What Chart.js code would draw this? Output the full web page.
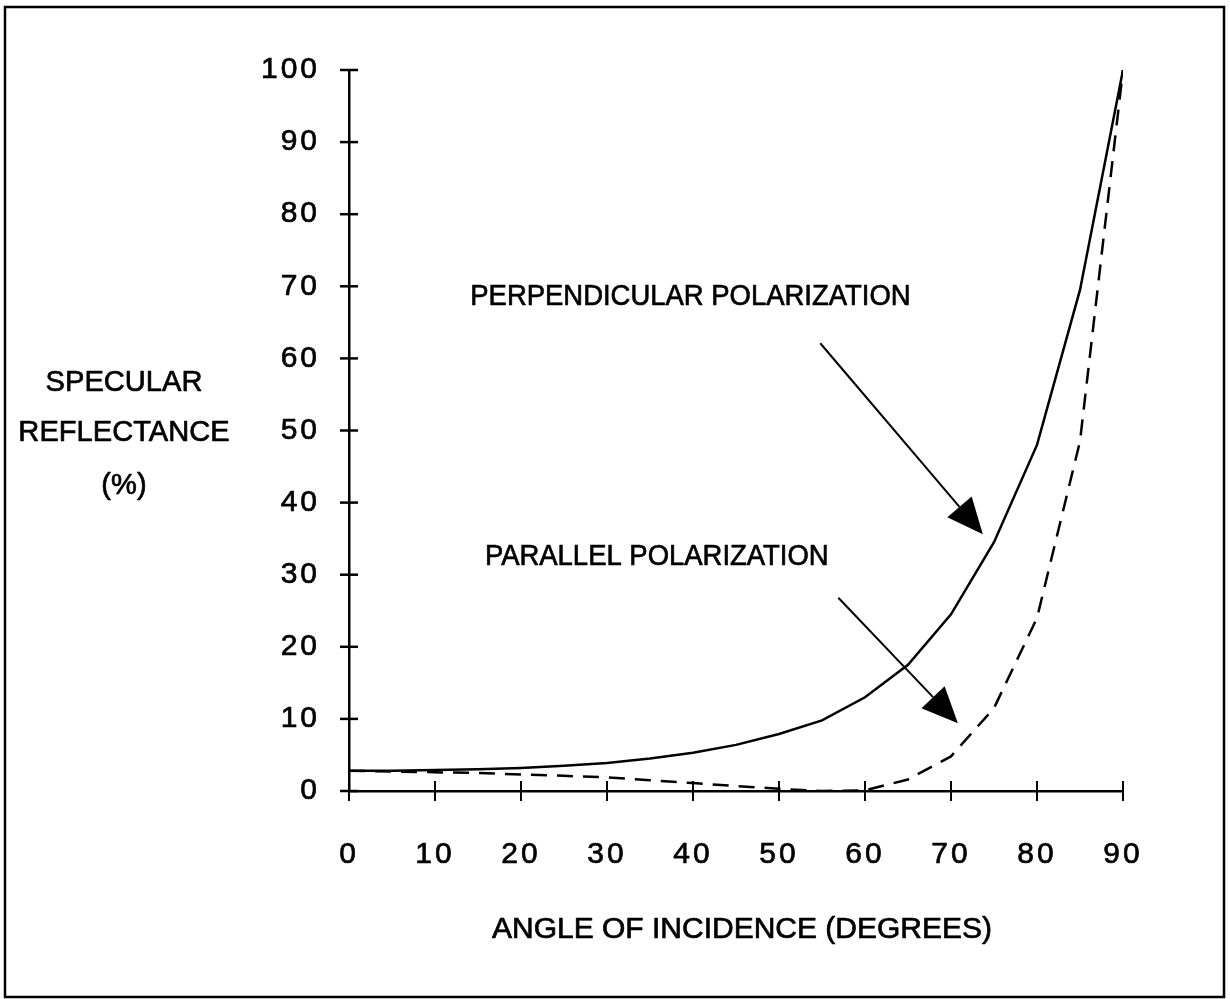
<!DOCTYPE html>
<html><head><meta charset="utf-8">
<script src="https://cdn.jsdelivr.net/npm/chart.js@4.4.1/dist/chart.umd.min.js"></script>
<style>html,body{margin:0;padding:0;background:#fff}#wrap{width:1230px;height:999px;position:relative}</style>
</head><body><div id="wrap"><canvas id="c" width="1230" height="999"></canvas></div>
<script>
const angles = [0,5,10,15,20,25,30,35,40,45,50,55,60,65,70,75,80,85,90];
const perpendicular = [2.8,2.8,2.9,3.0,3.2,3.5,3.9,4.5,5.3,6.4,7.9,9.8,13.0,17.5,24.5,34.5,48,69.5,100];
const parallel = [2.8,2.7,2.6,2.5,2.3,2.1,1.9,1.5,1.1,0.7,0.3,0.0,0.1,1.6,4.8,11.5,24,48.5,100];
const xTickValues = [0,10,20,30,40,50,60,70,80,90];
const yTickValues = [0,10,20,30,40,50,60,70,80,90,100];
const seriesNames = ['PERPENDICULAR POLARIZATION','PARALLEL POLARIZATION'];
const xTitle = 'ANGLE OF INCIDENCE (DEGREES)';
const yTitleLines = ['SPECULAR','REFLECTANCE','(%)'];
// annotation anchors in data units: [textX, textY, arrowStartX, arrowStartY, arrowTipX, arrowTipY]
const perpNote = [14.1, 68.5, 54.8, 62.1, 73.7, 35.6];
const paraNote = [15.8, 32.5, 56.9, 26.8, 70.8, 9.4];

const FONT = '"Liberation Sans",Arial,Helvetica,sans-serif';

function heavyText(ctx, text, x, y, align, sx) {
  ctx.save();
  ctx.translate(x, y); ctx.scale(sx, 1);
  ctx.textAlign = align; ctx.textBaseline = 'middle';
  ctx.lineWidth = 0.7; ctx.lineJoin = 'round';
  ctx.fillText(text, 0, 0); ctx.strokeText(text, 0, 0);
  ctx.restore();
}

function arrow(ctx, x1, y1, x2, y2) {
  const a = Math.atan2(y2 - y1, x2 - x1);
  const L = 36, W = 16;
  const bx = x2 - L * Math.cos(a), by = y2 - L * Math.sin(a);
  ctx.beginPath(); ctx.moveTo(x1, y1); ctx.lineTo(bx, by); ctx.stroke();
  ctx.beginPath(); ctx.moveTo(x2, y2);
  ctx.lineTo(bx + W * Math.sin(a), by - W * Math.cos(a));
  ctx.lineTo(bx - W * Math.sin(a), by + W * Math.cos(a));
  ctx.closePath(); ctx.fill();
}

const deco = {
  id: 'deco',
  beforeDraw(chart) { chart.ctx.letterSpacing = '3px'; },
  beforeDatasetsDraw(chart) {
    const {ctx, scales: {x, y}} = chart;
    ctx.letterSpacing = '0px';
    ctx.save();
    ctx.strokeStyle = '#000'; ctx.lineWidth = 2.5;
    yTickValues.forEach(v => { const py = y.getPixelForValue(v); ctx.beginPath(); ctx.moveTo(x.left - 9, py); ctx.lineTo(x.left + 9, py); ctx.stroke(); });
    ctx.lineWidth = 2;
    xTickValues.forEach(v => { const px = x.getPixelForValue(v); ctx.beginPath(); ctx.moveTo(px, y.bottom - 10); ctx.lineTo(px, y.bottom + 10); ctx.stroke(); });
    ctx.restore();
  },
  afterDraw(chart) {
    const {ctx, scales: {x, y}} = chart;
    ctx.save();
    ctx.letterSpacing = '0px';
    ctx.strokeStyle = '#000'; ctx.fillStyle = '#000'; ctx.lineWidth = 2.5;
    ctx.strokeRect(5, 7, 1219, 990);
    ctx.font = '30px ' + FONT;
    heavyText(ctx, seriesNames[0], x.getPixelForValue(perpNote[0]), y.getPixelForValue(perpNote[1]), 'left', 0.915);
    heavyText(ctx, seriesNames[1], x.getPixelForValue(paraNote[0]), y.getPixelForValue(paraNote[1]), 'left', 0.915);
    ctx.lineWidth = 2;
    [perpNote, paraNote].forEach(n => arrow(ctx, x.getPixelForValue(n[2]), y.getPixelForValue(n[3]), x.getPixelForValue(n[4]), y.getPixelForValue(n[5])));
    heavyText(ctx, xTitle, 742, 930, 'center', 1);
    const ty = [383, 433, 486];
    yTitleLines.forEach((t, i) => heavyText(ctx, t, 124, ty[i], 'center', 0.97));
    ctx.restore();
  }
};

new Chart(document.getElementById('c'), {
  type: 'line',
  data: {
    labels: angles,
    datasets: [
      {label: seriesNames[0], data: angles.map((a, i) => ({x: a, y: perpendicular[i]})), borderColor: '#000', borderWidth: 2.5, pointRadius: 0, tension: 0, fill: false},
      {label: seriesNames[1], data: angles.map((a, i) => ({x: a, y: parallel[i]})), borderColor: '#000', borderWidth: 2.5, borderDash: [16, 10], pointRadius: 0, tension: 0, fill: false}
    ]
  },
  options: {
    responsive: false, animation: false, devicePixelRatio: 1,
    layout: {padding: {top: 70, right: 107, left: 0, bottom: 0}},
    plugins: {legend: {display: false}, tooltip: {enabled: false}},
    scales: {
      x: {type: 'linear', min: 0, max: 90,
        afterBuildTicks: s => { s.ticks = xTickValues.map(v => ({value: v})); },
        afterFit: s => { s.height = 208; },
        grid: {display: false, drawTicks: false},
        border: {display: true, color: '#000', width: 2.5},
        ticks: {color: '#000', font: {family: FONT, size: 30}, padding: 46, maxRotation: 0, autoSkip: false, textStrokeColor: '#000', textStrokeWidth: 0.7}},
      y: {type: 'linear', min: 0, max: 100,
        afterBuildTicks: s => { s.ticks = yTickValues.map(v => ({value: v})); },
        afterFit: s => { s.width = 349; },
        grid: {display: false, drawTicks: false},
        border: {display: true, color: '#000', width: 2.5},
        ticks: {color: '#000', font: {family: FONT, size: 30}, padding: 29, autoSkip: false, textStrokeColor: '#000', textStrokeWidth: 0.7}}
    }
  },
  plugins: [deco]
});
</script></body></html>
